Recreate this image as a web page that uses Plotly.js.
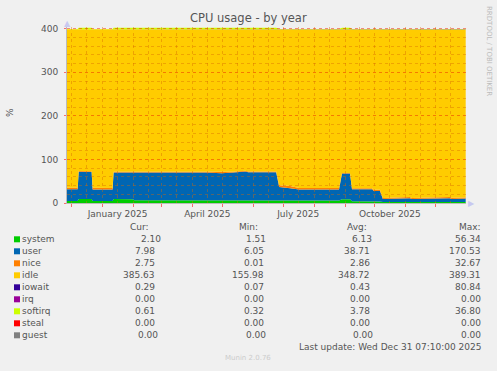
<!DOCTYPE html>
<html>
<head>
<meta charset="utf-8">
<script src="https://cdn.plot.ly/plotly-3.0.1.min.js"></script>
<style>html,body{margin:0;padding:0;background:#F0F0F0;}#chart{width:497px;height:371px;}</style>
</head>
<body>
<div id="chart"></div>
<script>
// ---- data ----
const dates = ['2024-11-26','2024-12-07','2024-12-08','2024-12-21','2024-12-22','2025-01-11','2025-01-12','2025-01-31','2025-02-02','2025-02-28','2025-03-02','2025-03-13','2025-03-15','2025-04-15','2025-04-30','2025-05-06','2025-05-12','2025-05-24','2025-05-27','2025-06-24','2025-06-27','2025-07-08','2025-07-17','2025-08-26','2025-08-29','2025-09-06','2025-09-08','2025-09-28','2025-09-30','2025-10-06','2025-10-09','2025-11-05','2025-11-07','2025-12-15','2025-12-17','2025-12-31'];
const systemVals  = [4.5,4.5,9,9,4.5,4.5,9,8.5,6.5,6.5,6.5,6.5,6.5,6.5,6.5,6.5,6.5,6.5,6.5,6.5,5.5,5,5,5.5,8.5,8.5,4,4,3.5,3.5,2.2,2.5,2.2,2.5,2.2,2.10];
const userVals    = [27,27,63,62,26.5,26.5,61,61.5,63.5,63.5,64.5,65,63.5,63.5,62,62,63.5,66,64,64,31,29,26,25.5,59.5,59.5,27.5,27.5,24,24,7,8.5,7,8.5,7.2,7.98];
const niceVals    = [3.5,3.5,1.5,2,4,3.5,1.5,1.5,1.5,1.5,1.5,1,1.5,1.5,3.5,3.5,2,1.5,2,2,4.5,5,3.5,3.5,1,1,2.5,2.5,3,3,2.5,2.5,2.5,2.5,2.7,2.75];
const idleVals    = [363.6,363.6,324.0,324.5,363.6,364.1,325.5,325.5,325.5,325.5,325.7,325.7,325.5,325.5,325,325,326.2,324.2,325.7,325.7,357.6,359.6,364.1,363.7,328.7,328.7,364.6,364.6,366.4,368.1,386.9,385.1,386.9,385.1,386.5,385.63];
const iowaitVals  = [0.3,0.3,0.5,0.5,0.3,0.3,1.5,1.5,1.5,1.5,0.3,0.3,1.5,1.5,1.5,1.5,0.3,0.3,0.3,0.3,0.3,0.3,0.3,0.3,0.3,0.3,0.3,0.3,2,0.3,0.3,0.3,0.3,0.3,0.3,0.29];
const irqVals     = [0,0,0,0,0,0,0,0,0,0,0,0,0,0,0,0,0,0,0,0,0,0,0,0,0,0,0,0,0,0,0,0,0,0,0,0];
const softirqVals = [0.6,0.6,4,4,0.6,0.6,3.5,3.5,3.5,3.5,3.5,3.5,3.5,3.5,3.5,3.5,3.5,3.5,3.5,3.5,0.6,0.6,0.6,1,4,4,0.6,0.6,0.6,0.6,0.6,0.6,0.6,0.6,0.6,0.61];
const stealVals   = [0,0,0,0,0,0,0,0,0,0,0,0,0,0,0,0,0,0,0,0,0,0,0,0,0,0,0,0,0,0,0,0,0,0,0,0];
const guestVals   = [0,0,0,0,0,0,0,0,0,0,0,0,0,0,0,0,0,0,0,0,0,0,0,0,0,0,0,0,0,0,0,0,0,0,0,0];

const seriesNames = ['system','user','nice','idle','iowait','irq','softirq','steal','guest'];
const curVals = ['2.10','7.98','2.75','385.63','0.29','0.00','0.61','0.00','0.00'];
const minVals = ['1.51','6.05','0.01','155.98','0.07','0.00','0.32','0.00','0.00'];
const avgVals = ['6.13','38.71','2.86','348.72','0.43','0.00','3.78','0.00','0.00'];
const maxVals = ['56.34','170.53','32.67','389.31','80.84','0.00','36.80','0.00','0.00'];
const colHeads = ['Cur:','Min:','Avg:','Max:'];
const xTickVals = ['2025-01-16','2025-04-16','2025-07-16','2025-10-16'];
const xTickText = ['January 2025','April 2025','July 2025','October 2025'];
const yTickVals = [0,100,200,300,400];
const titleText = 'CPU usage - by year';
const lastUpdate = 'Last update: Wed Dec 31 07:10:00 2025';
const xRange = ['2024-11-26 07:10','2025-12-31 07:10'];

// ---- styling ----
const colors = ['#00CC00','#0066B3','#FF8000','#FFCC00','#330099','#990099','#CCFF00','#FF0000','#808080'];
const allVals = [systemVals,userVals,niceVals,idleVals,iowaitVals,irqVals,softirqVals,stealVals,guestVals];
const FONT = 'DejaVu Sans';
const TXT = '#555555';

const W = 497, H = 371, L = 67, R = 466, T = 27, B = 203;
const yMax = 404;
const px = x => (x - L) / (R - L);
const py = y => (B - y) / (B - T);

const traces = allVals.map((v, i) => ({
  type: 'scatter', mode: 'lines', x: dates, y: v, name: seriesNames[i],
  stackgroup: 'cpu', line: {width: 0, color: colors[i]}, fillcolor: colors[i],
  hoverinfo: 'skip', showlegend: false, xaxis: 'x', yaxis: 'y'
}));
// empty trace on the grid overlay subplot
traces.push({type: 'scatter', x: [], y: [], xaxis: 'x2', yaxis: 'y2', showlegend: false, hoverinfo: 'skip'});

// month starts and mid months for the grid
const monthStarts = [], midMonths = [];
for (let m = 0; m < 14; m++) {
  const d = new Date(Date.UTC(2024, 11 + m, 1));
  const s = d.toISOString().slice(0, 10);
  monthStarts.push(s);
  midMonths.push(s.slice(0, 8) + '16');
}
midMonths.unshift('2024-11-16');

const ann = [];
ann.push({text: titleText, x: px(248), y: py(18), xref: 'paper', yref: 'paper', showarrow: false, xanchor: 'center', yanchor: 'middle', font: {family: FONT, size: 11.5, color: TXT}});
ann.push({text: '%', x: px(10), y: py(113), xref: 'paper', yref: 'paper', showarrow: false, textangle: -90, xanchor: 'center', yanchor: 'middle', font: {family: FONT, size: 9, color: TXT}});
ann.push({text: 'RRDTOOL / TOBI OETIKER', x: px(489), y: py(51), xref: 'paper', yref: 'paper', showarrow: false, textangle: 90, xanchor: 'center', yanchor: 'middle', font: {family: FONT, size: 7, color: '#BBBBBB'}});
ann.push({text: '▲', x: px(67), y: py(24), xref: 'paper', yref: 'paper', showarrow: false, xanchor: 'center', yanchor: 'middle', font: {family: FONT, size: 8, color: '#C8C8F0'}});
ann.push({text: '▶', x: px(471), y: py(203), xref: 'paper', yref: 'paper', showarrow: false, xanchor: 'center', yanchor: 'middle', font: {family: FONT, size: 8, color: '#C8C8F0'}});

const headX = [128, 237, 345, 457];
colHeads.forEach((h, i) => ann.push({text: h, x: px(headX[i]), y: py(227), xref: 'paper', yref: 'paper', showarrow: false, xanchor: 'left', yanchor: 'middle', font: {family: FONT, size: 9, color: TXT}}));

const colRight = [157, 266, 372, 483];
const rowShift = {0: [6, 2, 2, 0], 8: [3, 2, 3, 0]};
const shapes = [];
const cols = [curVals, minVals, avgVals, maxVals];
seriesNames.forEach((n, r) => {
  const yc = 239.3 + r * 12;
  shapes.push({type: 'rect', xref: 'paper', yref: 'paper', x0: px(14), x1: px(20), y0: py(yc + 3), y1: py(yc - 3), fillcolor: colors[r], line: {width: 0}, layer: 'above'});
  ann.push({text: n, x: px(20), y: py(yc), xref: 'paper', yref: 'paper', showarrow: false, xanchor: 'left', yanchor: 'middle', font: {family: FONT, size: 9, color: TXT}});
  cols.forEach((c, ci) => {
    const sh = rowShift[r] ? rowShift[r][ci] : 0;
    ann.push({text: c[r], x: px(colRight[ci] + sh), y: py(yc), xref: 'paper', yref: 'paper', showarrow: false, xanchor: 'right', yanchor: 'middle', font: {family: FONT, size: 9, color: TXT}});
  });
});
ann.push({text: lastUpdate, x: px(483), y: py(347), xref: 'paper', yref: 'paper', showarrow: false, xanchor: 'right', yanchor: 'middle', font: {family: FONT, size: 9, color: TXT}});
ann.push({text: 'Munin 2.0.76', x: px(248), y: py(358), xref: 'paper', yref: 'paper', showarrow: false, xanchor: 'center', yanchor: 'middle', font: {family: FONT, size: 7, color: '#CCCCCC'}});

const layout = {
  width: W, height: H,
  margin: {l: L, r: W - R, t: T, b: H - B, pad: 0},
  paper_bgcolor: '#F0F0F0', plot_bgcolor: 'rgba(0,0,0,0)',
  showlegend: false,
  font: {family: FONT, size: 9, color: TXT},
  xaxis: {
    type: 'date', range: xRange, domain: [0, 1], anchor: 'y',
    tickmode: 'array', tickvals: xTickVals, ticktext: xTickText, ticks: '',
    showgrid: false, zeroline: false, showline: true, linecolor: '#BBBBBB', linewidth: 1,
    tickfont: {family: FONT, size: 9, color: TXT}, ticklabelstandoff: 2,
    minor: {tickvals: monthStarts, ticks: 'outside', ticklen: 3, tickcolor: 'rgba(255,0,0,0.55)', showgrid: false}
  },
  yaxis: {
    range: [0, yMax], domain: [0, 1], anchor: 'x',
    tickmode: 'array', tickvals: yTickVals, ticks: 'outside', ticklen: 2, tickcolor: 'rgba(255,0,0,0.55)',
    showgrid: false, zeroline: false, showline: true, linecolor: '#BBBBBB', linewidth: 1,
    tickfont: {family: FONT, size: 9, color: TXT}, ticklabelstandoff: 4
  },
  xaxis2: {
    type: 'date', range: xRange, domain: [0, 1], anchor: 'y2',
    tickmode: 'array', tickvals: midMonths.concat(monthStarts), showticklabels: false, ticks: '',
    showgrid: true, gridcolor: 'rgba(215,105,0,0.42)', griddash: 'dot', gridwidth: 1,
    zeroline: false, showline: false
  },
  yaxis2: {
    range: [0, yMax], domain: [0, 1], anchor: 'x2',
    tickmode: 'array', tickvals: [100, 200, 300, 400], showticklabels: false, ticks: '',
    showgrid: true, gridcolor: 'rgba(235,40,0,0.5)', griddash: 'dot', gridwidth: 1,
    zeroline: false, showline: false,
    minor: {tickvals: [20,40,60,80,120,140,160,180,220,240,260,280,320,340,360,380], showgrid: true, gridcolor: 'rgba(215,105,0,0.4)', griddash: 'dot', gridwidth: 1, ticks: ''}
  },
  annotations: ann,
  shapes: shapes
};

Plotly.newPlot('chart', traces, layout, {displayModeBar: false, staticPlot: true});
</script>
</body>
</html>
